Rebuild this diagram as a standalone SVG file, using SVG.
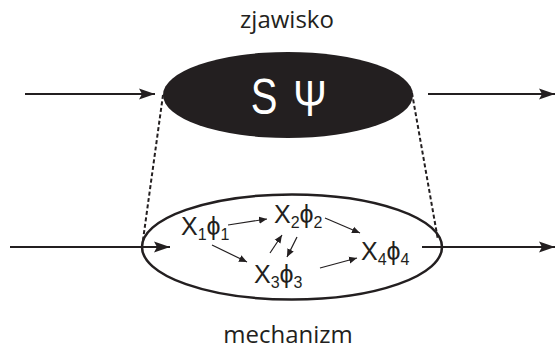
<svg xmlns="http://www.w3.org/2000/svg" width="556" height="352" viewBox="0 0 556 352">
<defs>
<style>
.ln{stroke:#231f20;stroke-width:2;fill:none}
.dash{stroke:#231f20;stroke-width:2;stroke-dasharray:4 2.5;fill:none}
.thin{stroke:#231f20;stroke-width:1.2;fill:none}
.lbl{font-family:"Open Sans","Liberation Sans",sans-serif;font-size:24px;fill:#231f20;text-anchor:middle}
.var{font-family:"Liberation Sans",Arial,sans-serif;font-size:25px;fill:#231f20}
.sub{font-size:16px}
.big{font-family:"Liberation Sans",Arial,sans-serif;font-size:50px;fill:#ffffff;text-anchor:middle}
</style>
<marker id="ah" markerUnits="userSpaceOnUse" markerWidth="18" markerHeight="12" refX="16" refY="6" orient="auto">
<path d="M0,0.5 L16,6 L0,11.5 L3,6 z" fill="#231f20"/>
</marker>
<marker id="sh" markerUnits="userSpaceOnUse" markerWidth="10" markerHeight="8" refX="8" refY="4" orient="auto">
<path d="M0,0.5 L8,4 L0,7.5 z" fill="#231f20"/>
</marker>
</defs>
<rect width="556" height="352" fill="#ffffff"/>
<g id="connectors">
<line class="ln" x1="25" y1="94" x2="155" y2="94" marker-end="url(#ah)"/>
<line class="ln" x1="428" y1="94" x2="555" y2="94" marker-end="url(#ah)"/>
<line class="ln" x1="10" y1="247" x2="170" y2="247" marker-end="url(#ah)"/>
<line class="ln" x1="422" y1="247" x2="555" y2="247" marker-end="url(#ah)"/>
<line class="dash" x1="163" y1="95" x2="143" y2="240"/>
<line class="dash" x1="412" y1="93" x2="438" y2="240"/>
<line class="thin" x1="228" y1="225" x2="267" y2="219" marker-end="url(#sh)"/>
<line class="thin" x1="212" y1="245" x2="247" y2="262" marker-end="url(#sh)"/>
<line class="thin" x1="325" y1="218" x2="360" y2="233" marker-end="url(#sh)"/>
<line class="thin" x1="270" y1="253" x2="282" y2="235" marker-end="url(#sh)"/>
<line class="thin" x1="297" y1="237" x2="287" y2="257" marker-end="url(#sh)"/>
<line class="thin" x1="320" y1="268" x2="357" y2="258" marker-end="url(#sh)"/>
</g>
<g id="zjawisko">
<ellipse cx="288" cy="95" rx="125" ry="43" fill="#231f20"/>
<text class="big" transform="translate(264,114) scale(0.8,1)">S</text>
<text class="big" transform="translate(310,116) scale(0.8,1)">Ψ</text>
<text class="lbl" x="287" y="28">zjawisko</text>
</g>
<g id="mechanizm">
<ellipse cx="292" cy="247" rx="150" ry="52.5" fill="none" stroke="#231f20" stroke-width="2.5"/>
<text class="lbl" x="288" y="343">mechanizm</text>
</g>
<g id="x1">
<text class="var" x="181" y="235">X<tspan class="sub" dy="5">1</tspan><tspan dy="-5">ϕ</tspan><tspan class="sub" dy="5">1</tspan></text>
</g>
<g id="x2">
<text class="var" x="274" y="223">X<tspan class="sub" dy="5">2</tspan><tspan dy="-5">ϕ</tspan><tspan class="sub" dy="5">2</tspan></text>
</g>
<g id="x3">
<text class="var" x="254" y="283">X<tspan class="sub" dy="5">3</tspan><tspan dy="-5">ϕ</tspan><tspan class="sub" dy="5">3</tspan></text>
</g>
<g id="x4">
<text class="var" x="361" y="260">X<tspan class="sub" dy="5">4</tspan><tspan dy="-5">ϕ</tspan><tspan class="sub" dy="5">4</tspan></text>
</g>
</svg>
